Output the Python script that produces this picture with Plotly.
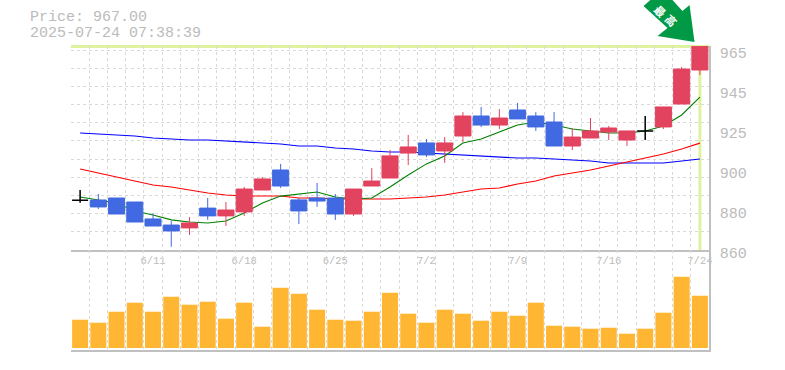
import plotly.graph_objects as go

dates = ["6/5","6/6","6/9","6/10","6/11","6/12","6/13","6/16","6/17","6/18","6/19","6/20","6/23","6/24","6/25","6/26","6/27","6/30","7/1","7/2","7/3","7/4","7/7","7/8","7/9","7/10","7/11","7/14","7/15","7/16","7/17","7/18","7/22","7/23","7/24"]
opens = [886.1,886.25,887.3,885.2,876.3,873.1,871.6,882.0,877.9,880.0,891.5,902.0,886.3,887.3,887.3,878.9,893.6,897.8,910.9,916.2,912.0,919.85,930.35,925.6,933.5,930.35,927.2,914.6,918.8,921.95,917.75,922.5,924.6,936.65,954.5]
highs = [891.5,889.4,887.3,885.2,879.4,875.2,877.3,887.3,885.2,893.1,898.3,905.2,887.3,895.2,889.4,892.0,903.0,912.5,920.4,918.3,919.3,932.4,935.1,934.0,937.2,932.4,932.4,924.05,929.3,925.1,922.5,930.35,935.1,956.1,967.0]
lows = [884.8,881.5,878.9,874.7,872.6,861.7,867.9,875.8,872.6,877.9,891.5,892.6,873.6,882.6,875.8,877.9,893.6,897.8,904.6,908.8,905.7,916.7,924.6,923.5,928.8,922.5,914.6,912.5,918.8,917.75,914.6,917.75,923.5,936.65,951.9]
closes = [886.1,882.6,878.9,874.7,872.6,870.0,874.2,877.9,881.0,892.0,897.3,893.6,880.5,885.7,878.9,892.0,896.2,909.4,914.1,909.9,916.2,930.35,925.6,929.3,928.8,924.6,914.6,919.3,922.5,924.05,922.5,922.5,935.1,955.0,967.0]
ma_short = [887.8,886.3,884.7,880.5,878.4,875.8,874.7,874.2,875.2,879.4,884.7,888.3,889.4,890.45,887.8,886.8,887.3,893.1,899.4,905.2,909.4,916.2,918.3,922.0,925.6,927.2,925.6,923.5,922.5,921.4,921.4,922.5,925.1,930.9,940.3]
ma_mid = [902.5,900.4,898.3,896.2,894.1,893.1,891.5,889.9,888.9,888.35,888.35,888.35,887.3,887.3,886.8,886.8,886.8,886.8,887.3,887.8,888.9,890.45,892.0,892.55,894.65,896.2,898.85,900.4,902.0,904.1,906.2,908.3,910.4,913.0,916.1]
ma_long = [921.4,920.9,920.4,919.85,918.8,918.3,917.75,917.75,917.2,916.7,916.2,915.65,914.6,914.6,913.55,913.0,912.0,911.45,911.45,910.9,910.4,909.9,909.35,908.8,908.3,908.3,907.8,907.25,906.7,905.7,905.7,905.7,905.7,906.7,907.8]
volumes = [28300,25300,36300,45300,36300,51300,43300,46300,29300,45300,21300,60300,54300,38300,28300,27300,36300,55300,34300,25300,38300,34300,27300,36300,32300,45300,22300,21300,19300,20300,14300,19300,35300,71300,52300]
price_ticks = [860,881,902,923,944,965]
price_labels = ["860","880","900","925","945","965"]
date_ticks = ["6/11","6/18","6/25","7/2","7/9","7/16","7/24"]

idx = list(range(len(dates)))
is_doji = [o == c for o, c in zip(opens, closes)]
def mask(vals, keep):
    return [v if k else None for v, k in zip(vals, keep)]
not_doji = [not d for d in is_doji]

GREY = "#c0c0c0"
GRID = "#d9d9d9"
HILITE = "#dff2a0"
ARROW = "#009a46"
MONO = "Liberation Mono"
W, H = 785, 370
L, R, T, B = 71, 709.5, 46, 350
pane_split = 250
def fy(px):
    return 1 - (px - T) / (B - T)

fig = go.Figure()
for vals, col in [(ma_long, "#0000ff"), (ma_mid, "#ff0000"), (ma_short, "#008000")]:
    fig.add_trace(go.Scatter(x=idx, y=vals, mode="lines", line=dict(color=col, width=1.1, shape="linear"),
                             xaxis="x", yaxis="y", hoverinfo="skip", showlegend=False))
fig.add_trace(go.Candlestick(x=idx, open=mask(opens, not_doji), high=mask(highs, not_doji),
                             low=mask(lows, not_doji), close=mask(closes, not_doji),
                             increasing=dict(line=dict(color="#e2435f", width=1), fillcolor="#e2435f"),
                             decreasing=dict(line=dict(color="#4169e1", width=1), fillcolor="#4169e1"),
                             whiskerwidth=0, xaxis="x", yaxis="y3", showlegend=False))
fig.add_trace(go.Candlestick(x=idx, open=mask(opens, is_doji), high=mask(highs, is_doji),
                             low=mask(lows, is_doji), close=mask(closes, is_doji),
                             increasing=dict(line=dict(color="#000000", width=1.5), fillcolor="#000000"),
                             decreasing=dict(line=dict(color="#000000", width=1.5), fillcolor="#000000"),
                             whiskerwidth=0, xaxis="x", yaxis="y3", showlegend=False))
fig.add_trace(go.Bar(x=idx, y=volumes, marker=dict(color="#ffb733", line=dict(width=0)), width=0.88,
                     xaxis="x2", yaxis="y2", showlegend=False))

DASH = "3px,3px"
xgrid = dict(tick0=-0.5, dtick=1, showgrid=True, gridcolor=GRID, griddash=DASH, gridwidth=1, ticks="")
tick_pos = [dates.index(d) for d in date_ticks]
price_rng = [860, 967.1]
fig.update_layout(
    width=W, height=H, autosize=False, paper_bgcolor="white", plot_bgcolor="white",
    margin=dict(l=L, r=W - R, t=T, b=H - B, pad=0, autoexpand=False),
    boxgap=0.12, boxgroupgap=0, bargap=0.12, showlegend=False, hovermode=False,
    xaxis=dict(domain=[0, 1], range=[-0.5, 34.5], anchor="y", tickmode="array", tickvals=tick_pos, ticktext=date_ticks, automargin=False,
               showgrid=False, zeroline=False, minor=xgrid, rangeslider=dict(visible=False),
               tickfont=dict(family=MONO, size=10.5, color="#bbbbbb"), ticks="", showline=True, linecolor=GREY, linewidth=1.5),
    xaxis2=dict(domain=[0, 1], range=[-0.5, 34.5], anchor="y2", showticklabels=False, showgrid=False, zeroline=False, automargin=False,
                minor=xgrid, ticks="", showline=True, linecolor=GREY, linewidth=1.5),
    yaxis=dict(domain=[fy(pane_split), 1], range=price_rng, anchor="x", side="right", tickmode="array", automargin=False,
               tickvals=price_ticks, ticktext=price_labels, showgrid=False, zeroline=False, ticks="",
               ticklabelstandoff=6, ticklabelshift=3,
               tickfont=dict(family=MONO, size=15, color="#bbbbbb"), showline=True, linecolor=GREY, linewidth=1.5,
               minor=dict(tick0=860, dtick=105 / 11, showgrid=True, gridcolor=GRID, griddash=DASH, gridwidth=1, ticks="")),
    yaxis3=dict(overlaying="y", range=price_rng, anchor="x", side="right", visible=False, automargin=False),
    yaxis2=dict(domain=[0, fy(pane_split)], range=[-2000, 98000], anchor="x2", side="right", showticklabels=False, automargin=False,
                showgrid=False, zeroline=False, ticks="", showline=True, linecolor=GREY, linewidth=1.5),
)
# latest-price highlight drawn beneath the candles
fig.add_shape(type="line", xref="x", yref="paper", x0=-0.5, x1=34.5, y0=fy(46.5), y1=fy(46.5),
              line=dict(color=HILITE, width=3), layer="below")
fig.add_shape(type="line", xref="x", yref="y", x0=idx[-1], x1=idx[-1], y0=860, y1=closes[-1],
              line=dict(color=HILITE, width=3), layer="below")

def px_x(p):
    return (p - L) / (R - L)
arrow = [(644, 6), (652, -1), (672, -1), (683, 11), (690, 5), (695, 42), (658, 36), (668, 28)]
path = "M " + " L ".join(f"{px_x(a):.4f} {fy(b):.4f}" for a, b in arrow) + " Z"
fig.add_shape(type="path", xref="paper", yref="paper", path=path, fillcolor=ARROW, line=dict(width=0), layer="below")
for glyph, gx, gy in [("最", 661, 11), ("高", 672, 20)]:
    fig.add_annotation(x=px_x(gx), y=fy(gy), xref="paper", yref="paper", text=glyph, textangle=45, showarrow=False,
                       xanchor="center", yanchor="middle",
                       font=dict(family="Noto Sans CJK JP", size=11, color="#ffffff", weight="bold"))
for text, py in [(f"Price: {closes[-1]:.2f}", 17.5), ("2025-07-24 07:38:39", 33.5)]:
    fig.add_annotation(x=px_x(28), y=fy(py), xref="paper", yref="paper", text=text, xanchor="left", yanchor="middle",
                       showarrow=False, align="left", font=dict(family=MONO, size=15, color="#bbbbbb"))
fig.write_html("out.html", config=dict(displayModeBar=False), post_script="document.body.style.margin='0';")
